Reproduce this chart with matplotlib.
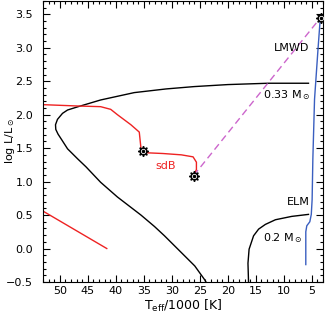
import matplotlib
matplotlib.use("Agg")
import matplotlib.pyplot as plt
from matplotlib.ticker import MultipleLocator

plt.rcParams['font.family'] = ['DejaVu Sans']
plt.rcParams['mathtext.fontset'] = 'dejavusans'

# 0.33 Msun track (black)
t033 = [5.6, 12.8, 20, 26, 31, 36.7, 42.7, 46.7, 48.6, 49.5, 50.4, 50.75, 50.7, 50.3, 49.6, 48.6, 46.8, 45.3, 42.7, 39.7, 35.5, 33.1, 31.3, 28.9, 25.9, 24.1, 23.9]
l033 = [2.47, 2.47, 2.45, 2.42, 2.385, 2.33, 2.22, 2.12, 2.07, 2.02, 1.93, 1.85, 1.78, 1.71, 1.62, 1.49, 1.34, 1.22, 0.99, 0.77, 0.50, 0.33, 0.19, -0.01, -0.26, -0.47, -0.5]

# 0.2 Msun ELM track (black)
telm = [16.3, 16.4, 16.2, 15.4, 14.5, 13.3, 11.5, 8.6, 5.6]
lelm = [-0.5, -0.22, -0.01, 0.19, 0.29, 0.36, 0.43, 0.48, 0.51]

# WD cooling (blue)
tblue = [3.48, 3.9, 4.52, 4.82, 4.95, 5.1, 5.36, 5.9, 6.08, 6.08]
lblue = [3.46, 2.98, 2.23, 1.34, 0.73, 0.51, 0.40, 0.34, 0.25, -0.24]

# sdB track (red)
tsdb = [53, 46.8, 42.7, 40.9, 39.7, 37.3, 35.8, 35.5, 35.1, 34.3, 31.6, 28.3, 26.2, 25.6, 25.6, 26.1]
lsdb = [2.15, 2.13, 2.12, 2.08, 2.0, 1.85, 1.74, 1.5, 1.46, 1.43, 1.42, 1.40, 1.37, 1.29, 1.18, 1.09]

# red line at lower left
tred2 = [53, 41.6]
lred2 = [0.56, 0.0]

# connection (magenta dashed)
tcon = [26.1, 3.45]
lcon = [1.09, 3.45]

# star markers
tstar = [35.1, 26.1, 3.45]
lstar = [1.46, 1.09, 3.45]

fig = plt.figure(figsize=(3.25, 3.14), dpi=100)
ax = fig.add_axes([0.132, 0.102, 0.862, 0.895])

ax.plot(t033, l033, color='black', lw=1.0)
ax.plot(telm, lelm, color='black', lw=1.0)
ax.plot(tblue, lblue, color='#3a5fc0', lw=1.0)
ax.plot(tsdb, lsdb, color='#ee2222', lw=1.0)
ax.plot(tred2, lred2, color='#ee2222', lw=1.0)
ax.plot(tcon, lcon, color='#cc66cc', lw=1.0, dashes=(5, 3))

ax.plot(tstar, lstar, ls='none', marker=(8, 1, 0), ms=7.5, color='black', zorder=5)
ax.plot(tstar, lstar, ls='none', marker='o', ms=4.5, mfc='white', mec='black', mew=0.8, zorder=6)
ax.plot(tstar, lstar, ls='none', marker='o', ms=1.5, color='black', zorder=7)

ax.text(8.6, 3.0, 'LMWD', fontsize=8, ha='center', va='center')
ax.text(9.5, 2.30, r'0.33 M$_\odot$', fontsize=8, ha='center', va='center')
ax.text(7.5, 0.70, 'ELM', fontsize=8, ha='center', va='center')
ax.text(10.2, 0.15, r'0.2 M$_\odot$', fontsize=8, ha='center', va='center')
ax.text(31.1, 1.24, 'sdB', fontsize=8, ha='center', va='center', color='#ee2222')

ax.set_xlim(53, 3)
ax.set_ylim(-0.5, 3.7)
ax.xaxis.set_major_locator(MultipleLocator(5))
ax.xaxis.set_minor_locator(MultipleLocator(1))
ax.yaxis.set_major_locator(MultipleLocator(0.5))
ax.yaxis.set_minor_locator(MultipleLocator(0.1))
ax.tick_params(which='both', direction='in', top=True, right=True, labelsize=8, width=0.8)
ax.tick_params(which='major', length=5)
ax.tick_params(which='minor', length=2.5)
ax.tick_params(axis='y', which='major', pad=7)
ax.tick_params(axis='x', which='major', pad=3)
ax.set_yticks([-0.5, 0.0, 0.5, 1.0, 1.5, 2.0, 2.5, 3.0, 3.5])
ax.set_yticklabels(['\u22120.5', '0.0', '0.5', '1.0', '1.5', '2.0', '2.5', '3.0', '3.5'])
ax.set_xticks([50, 45, 40, 35, 30, 25, 20, 15, 10, 5])
ax.set_ylabel(r'log L/L$_\odot$', fontsize=8)
ax.set_xlabel(r'T$_{\rm eff}$/1000 [K]', fontsize=9)
ax.yaxis.set_label_coords(-0.093, 0.5)
ax.xaxis.set_label_coords(0.5, -0.055)
for s in ax.spines.values():
    s.set_linewidth(0.8)

fig.savefig('out.png', dpi=100)
